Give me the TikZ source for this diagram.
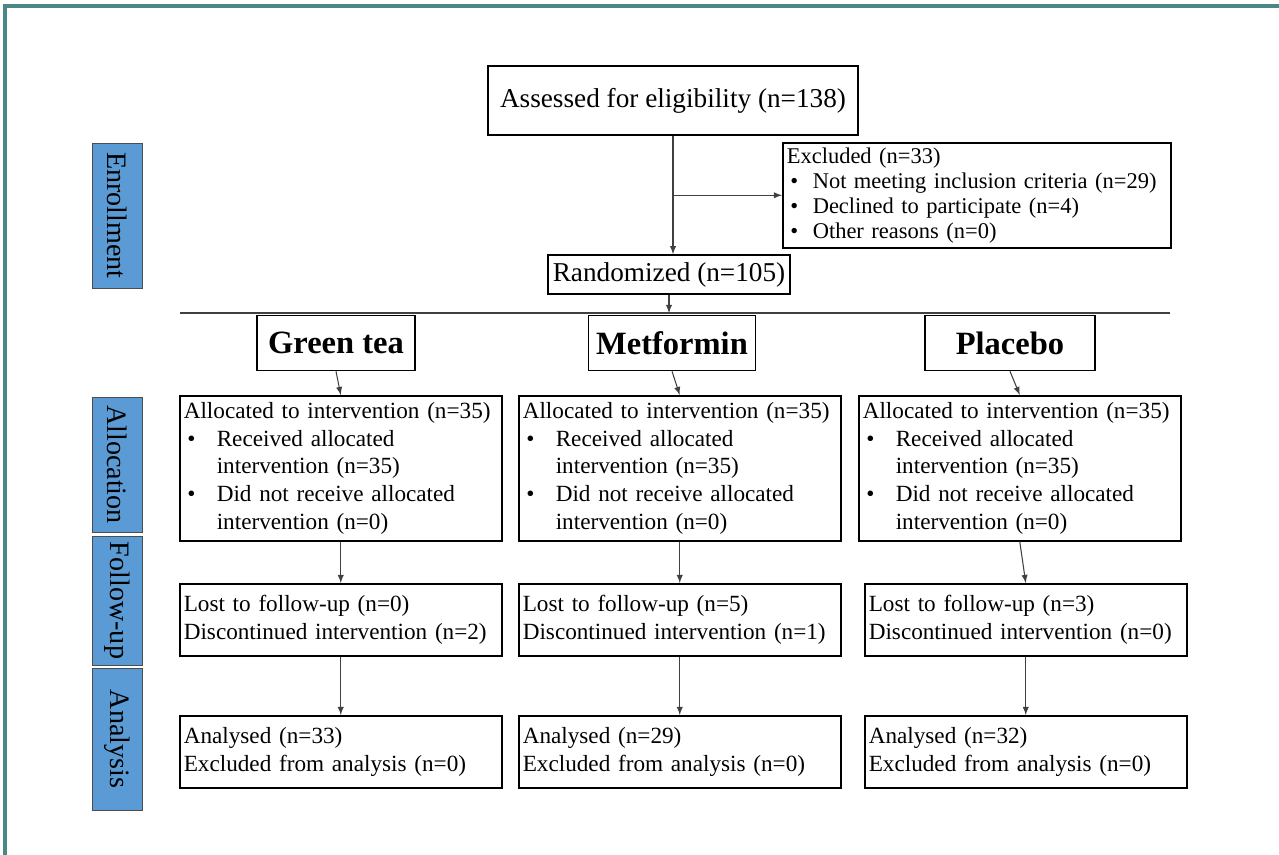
\documentclass[tikz,border=0pt]{standalone}
\usepackage{fontspec}
\setmainfont{Liberation Serif}
\usetikzlibrary{positioning}
\usetikzlibrary{shapes.geometric, arrows}

\definecolor{frameteal}{RGB}{74,136,136}
\definecolor{phaseblue}{RGB}{91,155,213}

\newcommand{\bul}[1][0.66cm]{\makebox[#1][l]{\hspace{2pt}\textbullet}}
\newcommand{\bulgap}[1][0.66cm]{\hspace*{#1}}

\tikzset{
  box/.style={draw, line width=0.9pt, anchor=north west, align=left, inner xsep=0.08cm, inner ysep=0pt,
    font=\fontsize{13.2}{15.8}\selectfont},
  phase/.style={draw=black!70, fill=phaseblue, rotate=-90, minimum height=1cm, inner sep=0pt,
    font=\fontsize{16}{18}\selectfont},
  arm/.style={draw, line width=0.9pt, minimum height=1.1cm, inner sep=0pt, font=\fontsize{18.5}{20}\selectfont\bfseries},
  link/.style={->, >=latex, draw=black!75, line width=0.6pt}
}

\begin{document}
\begin{tikzpicture}[x=0.02cm, y=-0.02cm]

\useasboundingbox (0,0) rectangle (1279,855);
\draw[frameteal, line width=0.08cm] (5,855) -- (5,6) -- (1279,6);

\node[phase, minimum width=2.9cm] (enrol) at (117,215.5) {Enrollment};
\node[phase, minimum width=2.7cm] (alloc) at (117,464.5) {Allocation};
\node[phase, minimum width=2.58cm] (follow) at (117,600.5) {Follow-up};
\node[phase, minimum width=2.84cm] (anal) at (117,739) {Analysis};

\node[draw, line width=0.9pt, minimum width=7.4cm, minimum height=1.38cm, font=\fontsize{15.5}{18}\selectfont] (assess) at (673,100.5) {Assessed for eligibility (n=138)};
\node[box, text width=7.6cm, minimum height=2.1cm, font=\fontsize{12.8}{14.2}\selectfont] (excl) at (782,142)
  {Excluded (n=33)\\ \bul[0.52cm]Not meeting inclusion criteria (n=29)\\ \bul[0.52cm]Declined to participate (n=4)\\ \bul[0.52cm]Other reasons (n=0)};
\node[draw, line width=0.9pt, minimum width=4.84cm, minimum height=0.78cm, inner sep=0pt, font=\fontsize{15.5}{18}\selectfont] (rand) at (669,274.5) {Randomized (n=105)};

\node[arm, minimum width=3.16cm] (green) at (336,343) {Green tea};
\node[arm, minimum width=3.34cm] (metf) at (672,343) {Metformin};
\node[arm, minimum width=3.4cm] (plac) at (1010,343) {Placebo};

\node[box, text width=6.28cm, minimum height=2.9cm] (alloc1) at (179,395)
  {Allocated to intervention (n=35)\\ \bul Received allocated\\ \bulgap intervention (n=35)\\ \bul Did not receive allocated\\ \bulgap intervention (n=0)};
\node[box, text width=6.28cm, minimum height=2.9cm] (alloc2) at (518,395)
  {Allocated to intervention (n=35)\\ \bul Received allocated\\ \bulgap intervention (n=35)\\ \bul Did not receive allocated\\ \bulgap intervention (n=0)};
\node[box, text width=6.28cm, minimum height=2.9cm] (alloc3) at (858,395)
  {Allocated to intervention (n=35)\\ \bul Received allocated\\ \bulgap intervention (n=35)\\ \bul Did not receive allocated\\ \bulgap intervention (n=0)};

\node[box, text width=6.28cm, minimum height=1.44cm] (fu1) at (179,583)
  {Lost to follow-up (n=0)\\ Discontinued intervention (n=2)};
\node[box, text width=6.28cm, minimum height=1.44cm] (fu2) at (518,583)
  {Lost to follow-up (n=5)\\ Discontinued intervention (n=1)};
\node[box, text width=6.28cm, minimum height=1.44cm] (fu3) at (864,583)
  {Lost to follow-up (n=3)\\ Discontinued intervention (n=0)};

\node[box, text width=6.28cm, minimum height=1.44cm] (an1) at (179,715)
  {Analysed (n=33)\\ Excluded from analysis (n=0)};
\node[box, text width=6.28cm, minimum height=1.44cm] (an2) at (518,715)
  {Analysed (n=29)\\ Excluded from analysis (n=0)};
\node[box, text width=6.28cm, minimum height=1.44cm] (an3) at (864,715)
  {Analysed (n=32)\\ Excluded from analysis (n=0)};

\coordinate (split) at (assess.south |- excl.west);
\coordinate (trunkL) at (180,313);
\coordinate (trunkR) at (1170,313);
\coordinate (hub) at (rand.south |- trunkL);

\draw[link] (assess.south) -- (assess.south |- rand.north);
\draw[link] (split) -- (excl.west);
\draw[link] (rand.south) -- (hub);
\draw[draw=black!75, line width=0.6pt] (trunkL) -- (trunkR);

\draw[link] (green.south) -- (alloc1.north);
\draw[link] (metf.south) -- (alloc2.north);
\draw[link] (plac.south) -- (alloc3.north);

\draw[link] (alloc1.south) -- (fu1.north);
\draw[link] (alloc2.south) -- (fu2.north);
\draw[link] (alloc3.south) -- (fu3.north);

\draw[link] (fu1.south) -- (an1.north);
\draw[link] (fu2.south) -- (an2.north);
\draw[link] (fu3.south) -- (an3.north);

\end{tikzpicture}
\end{document}
